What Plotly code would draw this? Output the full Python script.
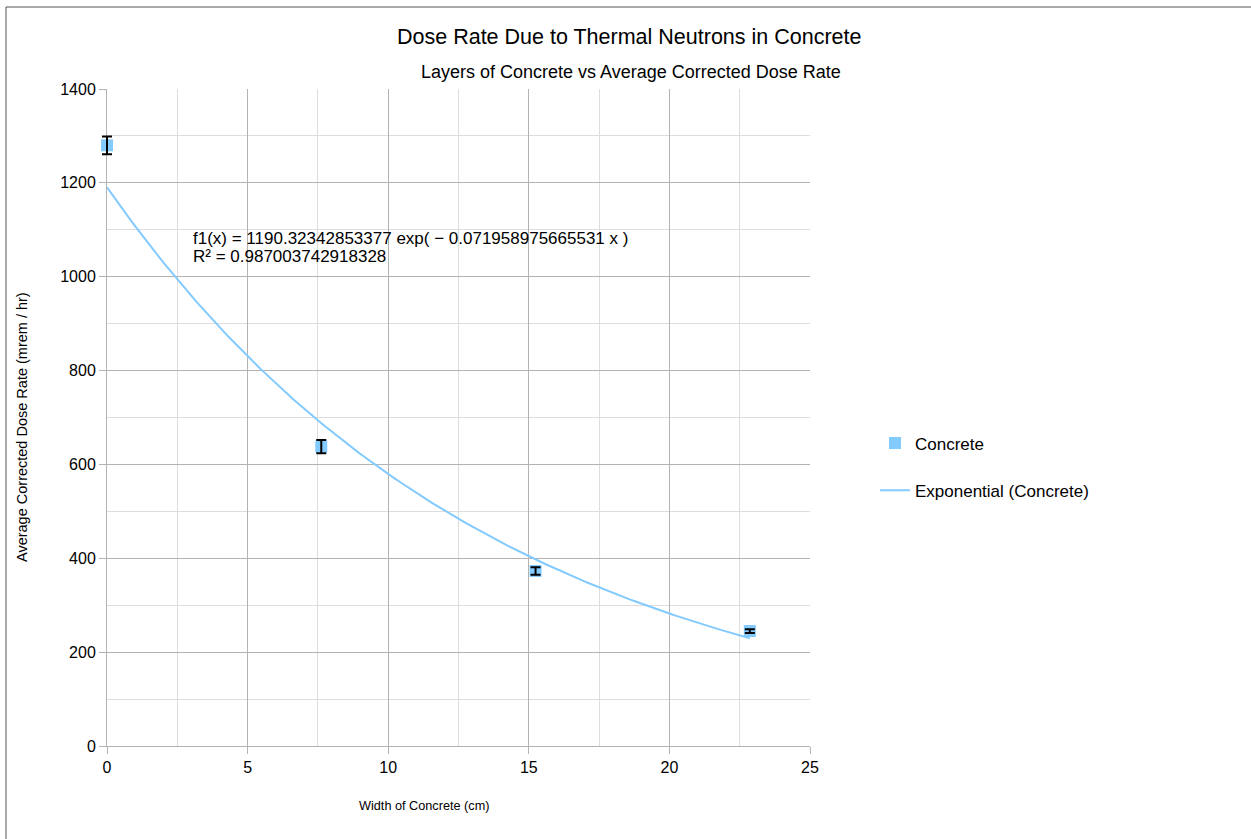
import numpy as np
import plotly.graph_objects as go

# Data
width_cm = [0.0, 7.62, 15.24, 22.86]
dose_rate = [1280, 638, 373, 245]
dose_err = [19, 14, 8, 4]

# Trend line coefficients as printed on the chart
fit_a = 1190.32342853377
fit_b = 0.071958975665531
fit_r2 = 0.987003742918328

x_ticks = [0, 5, 10, 15, 20, 25]
y_ticks = [0, 200, 400, 600, 800, 1000, 1200, 1400]

title_main = "Dose Rate Due to Thermal Neutrons in Concrete"
title_sub = "Layers of Concrete vs Average Corrected Dose Rate"
x_title = "Width of Concrete (cm)"
y_title = "Average Corrected Dose Rate (mrem / hr)"

BLUE = "#83caff"
FONT = "Liberation Sans, Arial, sans-serif"

xs = np.linspace(min(width_cm), max(width_cm), 200)
ys = fit_a * np.exp(-fit_b * xs)

W, H = 1251, 839
AX_L, AX_R, AX_T, AX_B = 107, 810, 89, 746   # visible axes box (px)
L = 80                                         # paper margin (px), wider than axes box
R, T, B = W - AX_R, AX_T, H - AX_B
pw, ph = W - L - R, H - T - B
X_MAX, Y_MAX = 25, 1400
x_pad = (AX_L - L) * X_MAX / (AX_R - AX_L)    # data span of the extra left strip

def px_x(p):
    return (p - L) / pw

def px_y(p):
    return (H - B - p) / ph

fig = go.Figure()
fig.add_trace(go.Scatter(
    x=xs, y=ys, mode="lines", name="Exponential (Concrete)",
    line=dict(color=BLUE, width=2), legendrank=2, legendgroup="b",
    cliponaxis=False,
))
fig.add_trace(go.Scatter(
    x=width_cm, y=dose_rate, mode="markers", name="Concrete",
    marker=dict(symbol="square", size=12, color=BLUE, line=dict(width=0)),
    legendrank=1, legendgroup="a", cliponaxis=False,
))
# error bars on an invisible, slightly wider overlay subplot drawn on top,
# so the bar at x=0 is not clipped
fig.add_trace(go.Scatter(
    x=width_cm, y=dose_rate, mode="markers", showlegend=False,
    marker=dict(size=1, color="rgba(0,0,0,0)"),
    error_y=dict(type="data", array=dose_err, color="black", thickness=2, width=5),
    hoverinfo="skip", xaxis="x2", yaxis="y2",
))

fig.update_layout(
    width=W, height=H,
    margin=dict(l=L, r=R, t=T, b=B),
    paper_bgcolor="white", plot_bgcolor="rgba(0,0,0,0)",
    font=dict(family=FONT, size=16, color="black"),
    showlegend=True,
    legend=dict(
        x=px_x(875), y=px_y(467), xanchor="left", yanchor="middle",
        font=dict(size=17, family=FONT), tracegroupgap=22,
        bgcolor="rgba(0,0,0,0)",
    ),
    xaxis=dict(
        domain=[px_x(AX_L), 1],
        range=[0, X_MAX], tickvals=x_ticks, ticktext=[str(v) for v in x_ticks],
        showgrid=True, gridcolor="#b3b3b3", gridwidth=1,
        minor=dict(dtick=2.5, showgrid=True, gridcolor="#dddddd", gridwidth=1),
        showline=True, linecolor="#b3b3b3", linewidth=1,
        ticks="outside", ticklen=7, tickcolor="#b3b3b3",
        zeroline=False, tickfont=dict(size=16), anchor="y",
    ),
    yaxis=dict(
        range=[0, Y_MAX], tickvals=y_ticks, ticktext=[str(v) for v in y_ticks],
        showgrid=True, gridcolor="#b3b3b3", gridwidth=1,
        minor=dict(dtick=100, showgrid=True, gridcolor="#dddddd", gridwidth=1),
        showline=True, linecolor="#b3b3b3", linewidth=1,
        ticks="outside", ticklen=7, tickcolor="#b3b3b3",
        zeroline=False, tickfont=dict(size=16), anchor="x",
    ),
    xaxis2=dict(domain=[0, 1], range=[-x_pad, X_MAX], visible=False,
                showgrid=False, zeroline=False, anchor="y2"),
    yaxis2=dict(domain=[0, 1], range=[0, Y_MAX], visible=False,
                showgrid=False, zeroline=False, anchor="x2"),
)

annotations = [
    dict(text=title_main, x=px_x(629), y=px_y(37), xref="paper", yref="paper",
         showarrow=False, font=dict(size=21.5), xanchor="center", yanchor="middle"),
    dict(text=title_sub, x=px_x(631), y=px_y(72), xref="paper", yref="paper",
         showarrow=False, font=dict(size=18), xanchor="center", yanchor="middle"),
    dict(text=x_title, x=px_x(424), y=px_y(806), xref="paper", yref="paper",
         showarrow=False, font=dict(size=12.7), xanchor="center", yanchor="middle"),
    dict(text=y_title, x=px_x(22), y=px_y(427), xref="paper", yref="paper",
         showarrow=False, font=dict(size=14.5), xanchor="center", yanchor="middle",
         textangle=-90),
    dict(text=f"f1(x) = {fit_a} exp( \u2212 {fit_b} x )",
         x=px_x(191), y=px_y(238), xref="paper", yref="paper",
         showarrow=False, font=dict(size=17), xanchor="left", yanchor="middle"),
    dict(text=f"R\u00b2 = {fit_r2}",
         x=px_x(191), y=px_y(256), xref="paper", yref="paper",
         showarrow=False, font=dict(size=17), xanchor="left", yanchor="middle"),
]
fig.update_layout(annotations=annotations)

fig.add_shape(type="rect", xref="paper", yref="paper",
              x0=px_x(6), x1=px_x(1270), y0=px_y(860), y1=px_y(7),
              line=dict(color="#555555", width=1), fillcolor="rgba(0,0,0,0)",
              layer="below")

fig.write_html("out.html")
